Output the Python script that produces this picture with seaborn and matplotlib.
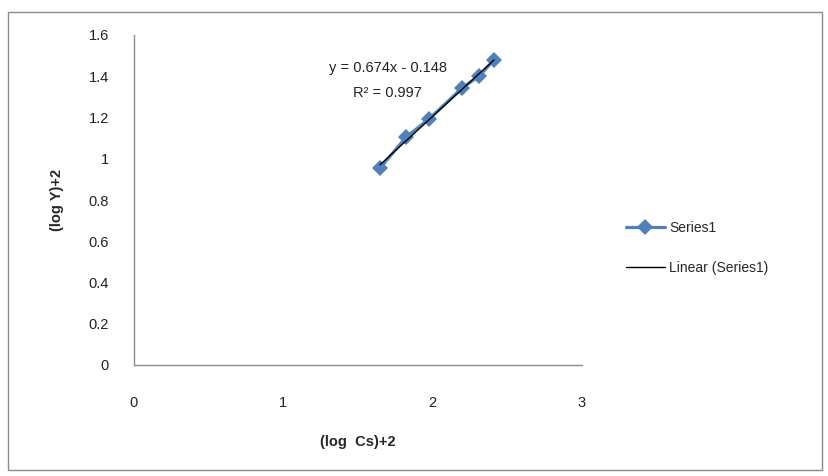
import numpy as np
import pandas as pd
import matplotlib
matplotlib.use("Agg")
import matplotlib.pyplot as plt
import seaborn as sns

# data
log_cs = [1.648, 1.822, 1.976, 2.197, 2.311, 2.411]
log_y = [0.955, 1.105, 1.193, 1.343, 1.401, 1.479]
x_ticks = [0, 1, 2, 3]
y_ticks = [0, 0.2, 0.4, 0.6, 0.8, 1.0, 1.2, 1.4, 1.6]
y_tick_labels = ["0", "0.2", "0.4", "0.6", "0.8", "1", "1.2", "1.4", "1.6"]
series_name = "Series1"
trend_name = "Linear (Series1)"
eq_text = "y = 0.674x - 0.148"
r2_text = "R² = 0.997"

sns.set_theme(style="white")
plt.rcParams['font.family'] = ['Liberation Sans', 'DejaVu Sans']

df = pd.DataFrame({"x": log_cs, "y": log_y})

fig = plt.figure(figsize=(8.29, 4.76), dpi=100)
ax = fig.add_axes([134/829, 1 - 365/476, (582-134)/829, (365-35)/476])

sns.lineplot(data=df, x="x", y="y", ax=ax, color="#4F81BD", linewidth=2.3,
             marker="D", markersize=8.5, markeredgewidth=0, label=series_name,
             sort=False)

coef = np.polyfit(df["x"], df["y"], 1)
xs = np.array([df["x"].min(), df["x"].max()])
trend = pd.DataFrame({"x": xs, "y": np.polyval(coef, xs)})
sns.lineplot(data=trend, x="x", y="y", ax=ax, color="black", linewidth=1.0,
             label=trend_name)

ax.set_xlim(0, 3)
ax.set_ylim(0, 1.6)
ax.set_xticks(x_ticks)
ax.set_xticklabels([str(t) for t in x_ticks])
ax.set_yticks(y_ticks)
ax.set_yticklabels(y_tick_labels)
ax.tick_params(axis='x', length=0, pad=22, labelsize=10.5, colors="#222222")
ax.tick_params(axis='y', length=0, pad=18, labelsize=10.5, colors="#222222")
for s in ["top", "right"]:
    ax.spines[s].set_visible(False)
for s in ["left", "bottom"]:
    ax.spines[s].set_color("#8c8c8c")
    ax.spines[s].set_linewidth(1.0)

ax.set_xlabel("(log  Cs)+2", fontsize=10.5, fontweight="bold", labelpad=18)
ax.set_ylabel("(log Y)+2", fontsize=10.5, fontweight="bold", labelpad=18)

ax.text(1.7, 1.44, eq_text, fontsize=10.5, ha="center", va="center", color="#222222")
ax.text(1.7, 1.32, r2_text, fontsize=10.5, ha="center", va="center", color="#222222")

leg = ax.legend(loc="center left", bbox_to_anchor=(1.07, 0.355), frameon=False,
                fontsize=10, handlelength=2.8, labelspacing=1.9, handletextpad=0.3)

border = plt.Rectangle((8/829, 1 - 470/476), (822-8)/829, (470-12)/476,
                       transform=fig.transFigure, fill=False, edgecolor="#8c8c8c",
                       linewidth=1.0)
fig.patches.append(border)

fig.savefig("out.png", dpi=100)
